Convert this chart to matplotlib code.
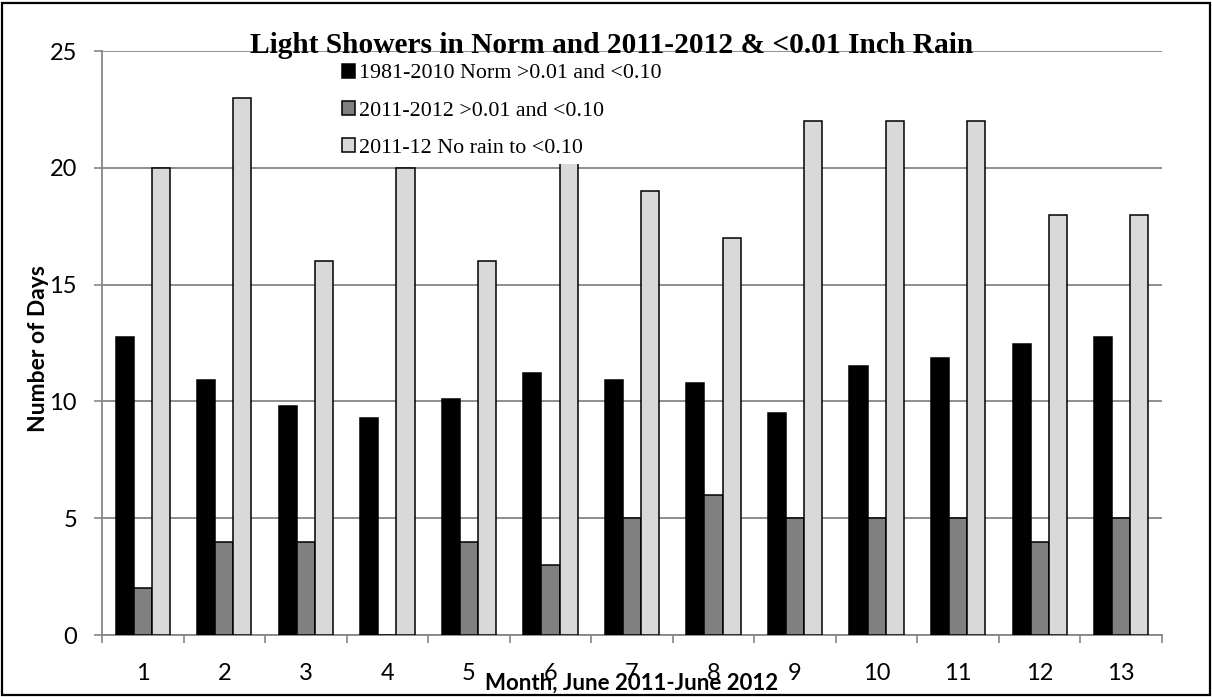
import numpy as np
import matplotlib
matplotlib.use('Agg')
import matplotlib.pyplot as plt
from matplotlib.patches import Rectangle

# Data
months = list(range(1, 14))
norm_1981_2010 = [12.75, 10.9, 9.8, 9.3, 10.1, 11.2, 10.9, 10.8, 9.5, 11.5, 11.85, 12.45, 12.75]
light_2011_2012 = [2, 4, 4, 0, 4, 3, 5, 6, 5, 5, 5, 4, 5]
norain_2011_12 = [20, 23, 16, 20, 16, 21, 19, 17, 22, 22, 22, 18, 18]

labels = ['1981-2010 Norm >0.01 and <0.10',
          '2011-2012 >0.01 and <0.10',
          '2011-12 No rain to <0.10']
title = 'Light Showers in Norm and 2011-2012 & <0.01 Inch Rain'

# Figure and axes placement (pixels of a 1212x697 canvas)
W, H = 1212, 697
fig = plt.figure(figsize=(W / 100, H / 100), dpi=100)
ax = fig.add_axes([102 / W, (H - 635) / H, (1162 - 102) / W, (635 - 51) / H])

x = np.array(months)
w = 1 / 4.5
grid_c = '#868686'
ax.bar(x - w, norm_1981_2010, w, color='black', edgecolor='black', lw=1.1, zorder=3, label=labels[0])
ax.bar(x, light_2011_2012, w, color='#808080', edgecolor='black', lw=1.1, zorder=3, label=labels[1])
ax.bar(x + w, norain_2011_12, w, color='#d9d9d9', edgecolor='black', lw=1.1, zorder=3, label=labels[2])

ax.set_xlim(0.5, 13.5)
ax.set_ylim(0, 25)
ax.set_yticks(range(0, 26, 5))
ax.set_xticks(months)
ax.set_xticks(np.arange(0.5, 14, 1), minor=True)
ax.yaxis.grid(True, color=grid_c, lw=1.3, zorder=0)
ax.set_axisbelow(True)

for s in ['top', 'right']:
    ax.spines[s].set_visible(False)
for s in ['left', 'bottom']:
    ax.spines[s].set_color(grid_c)
    ax.spines[s].set_linewidth(1.3)

tick_font = 'Lato'
ax.tick_params(axis='y', length=6, width=1.2, color=grid_c, pad=12, labelsize=17)
ax.tick_params(axis='x', which='major', length=0, pad=20, labelsize=17)
ax.tick_params(axis='x', which='minor', length=6, width=1.2, color=grid_c)
for lab in ax.get_xticklabels() + ax.get_yticklabels():
    lab.set_fontfamily(tick_font)

fig.text(39 / W, 1 - 349 / H, 'Number of Days', rotation=90, ha='center', va='center',
         fontsize=16.5, fontweight='bold', family=tick_font)
fig.text(632 / W, 1 - 683 / H, 'Month, June 2011-June 2012', ha='center', va='center',
         fontsize=16, fontweight='bold', family=tick_font)

fig.text(612 / W, 1 - 53 / H, title, ha='center', va='baseline',
         fontsize=21.2, fontweight='bold', family='Liberation Serif')

leg = ax.legend(loc='upper left', bbox_to_anchor=(335 / W, 1 - 57 / H),
                bbox_transform=fig.transFigure, frameon=True, fancybox=False,
                framealpha=1, facecolor='white', edgecolor='none',
                prop={'family': 'Liberation Serif', 'size': 15.8},
                handlelength=0.6, handleheight=0.6, handletextpad=0.2,
                labelspacing=0.8, borderpad=0.3, borderaxespad=0)
leg.set_zorder(5)

# outer chart border
fig.add_artist(Rectangle((2.5 / W, 2.5 / H), 1 - 5 / W, 1 - 5 / H, transform=fig.transFigure,
                         fill=False, edgecolor='black', lw=1.6))

fig.savefig('out.png', dpi=100)
